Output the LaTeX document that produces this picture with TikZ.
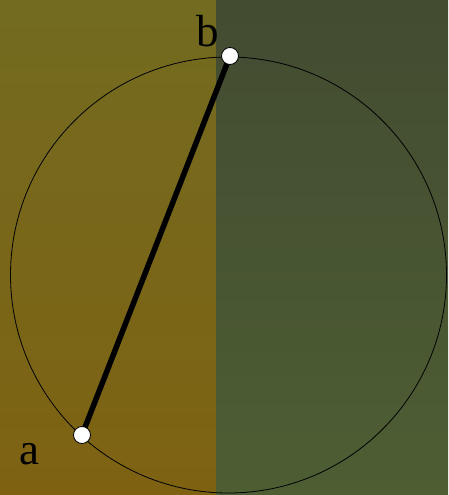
\documentclass[tikz,border=0pt]{standalone}
\usepackage{fontspec}
\setmainfont{Liberation Serif}
\usepackage{tikz}
\usetikzlibrary{calc}
\definecolor{oliveTop}{HTML}{736B20}
\definecolor{oliveBot}{HTML}{7E6212}
\definecolor{greenTop}{HTML}{434B31}
\definecolor{greenBot}{HTML}{4D5E33}
\tikzset{
  endpoint/.style={circle, draw=black, fill=white, line width=0.8pt, minimum size=17pt, inner sep=0pt},
  chord/.style={line width=5.5pt},
  ptlabel/.style={font=\fontsize{45}{45}\selectfont, inner sep=0pt}
}

\begin{document}
\begin{tikzpicture}[x=1pt, y=-1pt]
\useasboundingbox (0,0) rectangle (448,495);
% two halves of the background
\shade[top color=oliveTop, bottom color=oliveBot] (0,0) rectangle (216,495);
\shade[top color=greenTop, bottom color=greenBot] (216,0) rectangle (448,495);

\coordinate (o) at (228.5,275);
\draw[line width=0.8pt] (o) circle[radius=218];

\coordinate (pb) at (230,56);
\coordinate (pa) at (82,435);
\draw[chord] (pa) -- (pb);
\node[endpoint] (b) at (pb) {};
\node[endpoint] (a) at (pa) {};

\node[ptlabel] (lb) at (208,31) {b};
\node[ptlabel] (la) at (29,454) {a};
\end{tikzpicture}
\end{document}
